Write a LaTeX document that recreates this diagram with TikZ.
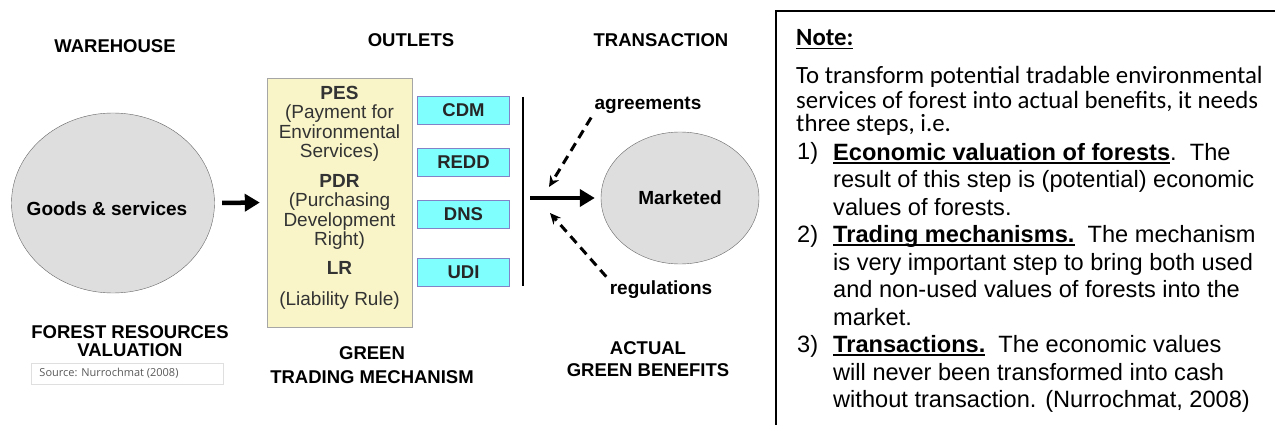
\documentclass[tikz,border=0pt]{standalone}
\usepackage{fontspec}
\setmainfont{Liberation Sans}
\newfontfamily\notefont{Carlito}
\newfontfamily\srcfont{Open Sans}
\usetikzlibrary{shapes.geometric, arrows.meta, positioning}

\definecolor{mechyellow}{HTML}{F9F5C9}
\definecolor{outletcyan}{HTML}{80FFFF}
\definecolor{ovalgray}{HTML}{DEDEDE}

% bold text with a heavy underline
\newcommand{\ulbf}[1]{\setbox0=\hbox{\bfseries #1}\rlap{\rule[-3.5pt]{\wd0}{1.6pt}}\box0}

\begin{document}
\begin{tikzpicture}[x=1pt, y=-1pt,
    heading/.style={font=\fontsize{18.5}{22}\selectfont\bfseries, align=center, anchor=base, inner sep=0},
    oval/.style={draw=gray!80!black, fill=ovalgray, ellipse, inner sep=0},
    ovaltext/.style={font=\fontsize{19}{22}\selectfont\bfseries, anchor=base, inner sep=0},
    outlet/.style={draw=gray!60!blue!70, fill=outletcyan, minimum width=92, minimum height=28, inner sep=0, font=\fontsize{18.5}{22}\selectfont\bfseries, text=black!85},
    mechtext/.style={font=\fontsize{19}{19.4}\selectfont, align=center, anchor=base, inner sep=0, text=black!80},
    bigarrow/.style={line width=4.5, -{Triangle[length=15pt,width=17pt]}},
    dasharrow/.style={line width=3, dash pattern=on 9pt off 6pt, -{Stealth[length=11pt,width=10pt]}},
    notetext/.style={anchor=base west, align=left, inner sep=0, font=\fontsize{23.6}{27.5}\selectfont}]
  \useasboundingbox (0,0) rectangle (1275,425);

  % Warehouse column
  \node[heading] (wh) at (115,52.5) {WAREHOUSE};
  \node[oval, minimum width=203, minimum height=180] (goods) at (113,203) {};
  \node[ovaltext] (goodstext) at (107,215.5) {Goods \& services};
  \node[heading, font=\fontsize{18.5}{18}\selectfont\bfseries] (frv) at (130,356.5) {FOREST RESOURCES\\VALUATION};
  \node[draw=gray!25, line width=0.8, minimum width=192, minimum height=21, inner sep=0, font=\srcfont\fontsize{11}{12}\selectfont, text=black!65] (src) at (127,373.5) {\hspace*{-36pt}Source: Nurrochmat (2008)};

  % Outlets column
  \node[heading] (outl) at (411,46.5) {OUTLETS};
  \node[draw=gray!70, fill=mechyellow, minimum width=145, minimum height=249, inner sep=0] (mech) at (339.5,202.5) {};
  \node[mechtext] (pes) at (339.5,157.5) {\textbf{PES}\\(Payment for\\Environmental\\Services)};
  \node[mechtext] (pdr) at (339.5,245.5) {\textbf{PDR}\\(Purchasing\\Development\\Right)};
  \node[mechtext] (lr) at (339.5,274.5) {\textbf{LR}};
  \node[mechtext] (lrname) at (339.5,305.5) {(Liability Rule)};
  \node[outlet] (cdm) at (463.5,110.5) {CDM};
  \node[outlet] (redd) at (463.5,162.5) {REDD};
  \node[outlet] (dns) at (463.5,214) {DNS};
  \node[outlet] (udi) at (463.5,272.5) {UDI};
  \node[heading, font=\fontsize{18.5}{24}\selectfont\bfseries] (gtm) at (372,383.5) {GREEN\\TRADING MECHANISM};

  % Transaction column
  \node[heading] (trans) at (661,46.5) {TRANSACTION};
  \coordinate (bartop) at (523,97);
  \coordinate (barbot) at (523,286);
  \coordinate (barmid) at (523,198);
  \node[oval, minimum width=158, minimum height=132] (mkt) at (680,198) {};
  \node[ovaltext] (mkttext) at (680,204.5) {Marketed};
  \node[anchor=base, font=\fontsize{19}{22}\selectfont\bfseries] (agr) at (648,110) {agreements};
  \node[anchor=base, font=\fontsize{19}{22}\selectfont\bfseries] (reg) at (661,294) {regulations};
  \coordinate (agrtip) at (549,187);
  \coordinate (regtip) at (550,213);
  \node[heading, font=\fontsize{18.5}{22}\selectfont\bfseries] (agb) at (648,376.5) {ACTUAL\\GREEN BENEFITS};

  % Arrows
  \draw[bigarrow, shorten <=7.5pt, shorten >=7pt] (goods.east) -- (mech.west);
  \draw[line width=2] (bartop) -- (barbot);
  \draw[bigarrow, shorten <=7pt, shorten >=6pt] (barmid) -- (mkt.west);
  \draw[dasharrow] (agr.south west) -- (agrtip);
  \draw[dasharrow] (reg.north west) -- (regtip);

  % Note box
  \coordinate (notetop) at (1275,11);
  \coordinate (notebot) at (776,425);
  \draw[line width=1.8] (notebot) |- (notetop);
  \node[anchor=base west, inner sep=0, font=\notefont\fontsize{24.8}{24}\selectfont] (notehead) at (796,46) {\ulbf{Note:}};
  \node[anchor=base west, align=left, inner sep=0, font=\notefont\fontsize{24.8}{24}\selectfont] (intro) at (796,132) {To transform potential tradable environmental\\services of forest into actual benefits, it needs\\three steps, i.e.};
  \node[notetext] (n1) at (797,160) {1)};
  \node[notetext] (step1) at (833,215) {\ulbf{Economic valuation of forests}.~~The\\result of this step is (potential) economic\\values of forests.};
  \node[notetext] (n2) at (797,242.5) {2)};
  \node[notetext] (step2) at (833,325) {\ulbf{Trading mechanisms.}~~The mechanism\\is very important step to bring both used\\and non-used values of forests into the\\market.};
  \node[notetext] (n3) at (797,352.5) {3)};
  \node[notetext] (step3) at (833,407.5) {\ulbf{Transactions.}~~The economic values\\will never been transformed into cash\\without transaction. (Nurrochmat, 2008)};
\end{tikzpicture}
\end{document}
